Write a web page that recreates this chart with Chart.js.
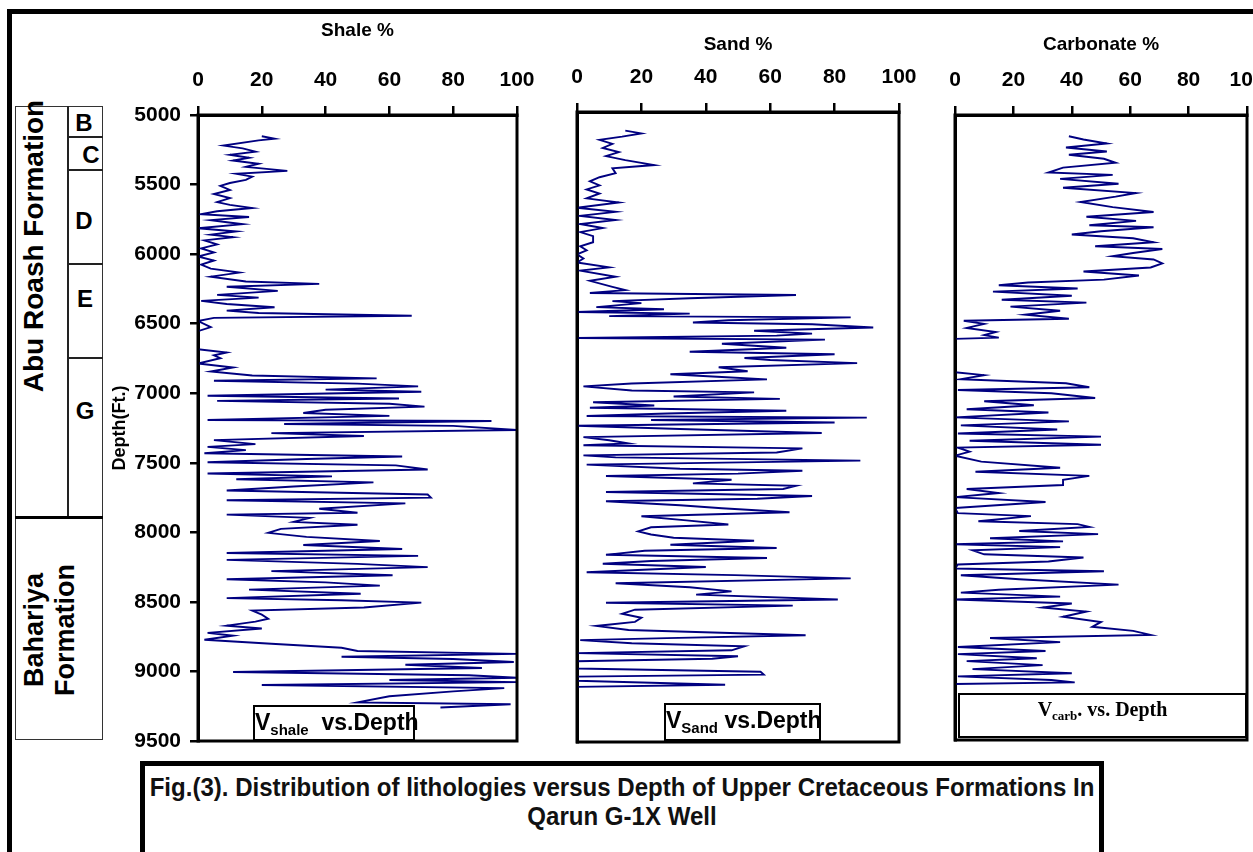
<!DOCTYPE html>
<html>
<head>
<meta charset="utf-8">
<script src="https://cdn.jsdelivr.net/npm/chart.js@4.4.1/dist/chart.umd.min.js"></script>
<style>
  body { margin: 0; width: 1253px; height: 852px; overflow: hidden; background: #fff; position: relative; font-family: Arial, "Liberation Sans", sans-serif; }
  .abs { position: absolute; }
  canvas { position: absolute; top: 0; }
  .frame { left: 7px; top: 9px; width: 1270px; height: 880px; border: 5px solid #000; }
  .ln { position: absolute; background: #222; }
  .letter { position: absolute; font-weight: bold; font-size: 24px; transform: translate(-50%, -50%); }
  .rot { position: absolute; font-weight: bold; white-space: nowrap; transform: translate(-50%, -50%) rotate(-90deg); text-align: center; }
  .lg { position: absolute; background: #fff; border: 2px solid #000; box-sizing: border-box; font-weight: bold; font-size: 23px; text-align: center; line-height: 30px; white-space: nowrap; }
  .lg sub { font-size: 15px; vertical-align: -5px; }
  .caption { left: 140px; top: 761px; width: 954px; height: 120px; border: 5px solid #000; }
  .caption div { width: 1060px; margin-left: -53px; transform: scaleX(0.925); font-family: "Liberation Sans Narrow", "Arial Narrow", Arial, sans-serif; font-weight: bold; font-size: 26px; text-align: center; line-height: 29px; padding-top: 7px; color: #111; }
</style>
</head>
<body>
<div class="abs frame"></div>

<!-- formation column -->
<div class="abs" style="left:15px;top:106px;width:88px;height:634px;border:1.5px solid #333;box-sizing:border-box;"></div>
<div class="ln" style="left:67px;top:106px;width:1.5px;height:412px;"></div>
<div class="ln" style="left:67px;top:136px;width:36px;height:1.5px;"></div>
<div class="ln" style="left:67px;top:169px;width:36px;height:1.5px;"></div>
<div class="ln" style="left:67px;top:263px;width:36px;height:1.5px;"></div>
<div class="ln" style="left:67px;top:357px;width:36px;height:1.5px;"></div>
<div class="ln" style="left:15px;top:516px;width:88px;height:3px;background:#000;"></div>
<div class="letter" style="left:84px;top:123px;">B</div>
<div class="letter" style="left:91px;top:155px;">C</div>
<div class="letter" style="left:84px;top:221px;">D</div>
<div class="letter" style="left:85px;top:299px;">E</div>
<div class="letter" style="left:85px;top:411px;">G</div>
<div class="rot" style="left:34px;top:246px;font-size:28px;">Abu Roash Formation</div>
<div class="rot" style="left:50px;top:630px;font-size:27px;line-height:31px;">Bahariya<br>Formation</div>

<canvas id="shaleChart" width="445" height="760" style="left:100px;"></canvas>
<canvas id="sandChart" width="375" height="760" style="left:545px;"></canvas>
<canvas id="carbChart" width="333" height="760" style="left:920px;"></canvas>

<div class="lg" style="left:253px;top:705px;width:162px;height:36px;">V<sub>shale</sub>&nbsp; vs.Depth</div>
<div class="lg" style="left:664px;top:703px;width:157px;height:38px;">V<sub>Sand</sub> vs.Depth</div>
<div class="lg" style="left:958px;top:693px;width:289px;height:45px;font-family:'Liberation Serif','Times New Roman',serif;font-size:20px;line-height:28px;">V<sub style="font-size:13px;vertical-align:-4px;">carb</sub>. vs. Depth</div>

<div class="abs caption"><div>Fig.(3). Distribution of lithologies versus Depth of Upper Cretaceous Formations In<br>Qarun G-1X Well</div></div>

<script>
const shaleDepth = [5153,5170,5182,5220,5240,5263,5286,5307,5327,5350,
  5373,5402,5423,5443,5466,5489,5510,5539,5568,5597,
  5626,5646,5669,5692,5713,5733,5756,5785,5814,5837,
  5860,5878,5901,5930,5959,5988,6017,6046,6075,6104,
  6133,6162,6197,6214,6235,6264,6293,6313,6336,6359,
  6382,6406,6423,6443,6458,6481,6525,6554,6684,6707,
  6728,6748,6786,6815,6844,6873,6893,6910,6931,6951,
  6974,6989,7018,7038,7055,7076,7096,7119,7142,7163,
  7192,7200,7221,7235,7264,7287,7307,7337,7366,7386,
  7409,7432,7455,7473,7496,7519,7548,7577,7598,7618,
  7641,7670,7699,7728,7751,7769,7792,7830,7859,7873,
  7896,7925,7946,7975,8004,8033,8062,8091,8120,8149,
  8169,8198,8227,8250,8279,8308,8337,8360,8383,8412,
  8441,8473,8488,8505,8540,8563,8592,8621,8642,8671,
  8691,8723,8743,8772,8801,8830,8853,8874,8894,8911,
  8932,8952,8975,9004,9027,9045,9062,9077,9097,9120,
  9143,9178,9222,9236,9259];
const shaleValue = [20,24,19,8,14,18,10,16,11,19,
  15,28,12,17,15,10,7,10,5,10,
  6,10,17,6,1,16,4,14,0,12,
  4,11,2,6,1,5,0,5,1,4,
  13,4,15,38,9,25,6,19,1,9,
  24,9,19,67,5,0,4,0,0,9,
  5,7,0,11,4,17,56,5,50,69,
  40,70,3,63,6,60,71,40,33,60,
  3,92,27,80,100,23,52,5,18,3,
  15,2,64,34,3,62,72,3,42,12,
  55,30,9,72,73,9,65,38,50,9,
  35,30,50,26,22,34,57,33,64,9,
  69,9,50,72,23,61,9,40,57,16,
  51,9,45,70,52,17,20,22,18,9,
  20,3,11,2,23,45,50,100,45,80,
  99,65,89,11,85,100,60,100,20,96,
  80,60,50,98,76];

const sandDepth = [5133,5153,5176,5199,5228,5257,5286,5315,5344,5379,
  5402,5437,5466,5495,5524,5553,5582,5617,5646,5684,
  5713,5742,5771,5800,5829,5858,5887,5930,5959,5988,
  6017,6046,6075,6110,6133,6177,6206,6249,6272,6293,
  6307,6330,6351,6365,6394,6409,6429,6440,6458,6467,
  6487,6504,6516,6539,6562,6583,6597,6614,6626,6655,
  6684,6713,6730,6757,6771,6794,6823,6852,6873,6893,
  6910,6939,6960,6989,7003,7032,7049,7073,7096,7113,
  7134,7154,7171,7183,7200,7218,7241,7264,7293,7322,
  7345,7368,7380,7403,7432,7453,7467,7490,7519,7548,
  7563,7583,7600,7627,7653,7670,7693,7714,7743,7763,
  7780,7809,7830,7859,7888,7917,7946,7966,7995,8018,
  8041,8062,8091,8114,8134,8163,8186,8207,8227,8250,
  8288,8308,8331,8366,8395,8424,8447,8482,8505,8526,
  8555,8584,8613,8642,8671,8700,8737,8758,8772,8795,
  8816,8845,8865,8888,8905,8923,8975,8998,9019,9033,
  9062,9091,9106,9259];
const sandValue = [15,20,14,7,11,8,13,9,15,24,
  11,12,7,4,7,3,7,3,13,0,
  12,1,12,1,8,1,5,5,1,3,
  0,2,0,10,1,12,4,11,15,4,
  68,35,11,20,6,27,0,35,10,85,
  47,36,73,92,55,73,62,0,77,45,
  65,35,80,52,60,87,44,53,29,45,
  59,17,2,17,55,30,63,5,24,4,
  65,28,3,90,23,80,0,32,76,2,
  10,16,2,70,62,2,12,88,3,32,
  70,50,9,48,36,68,64,9,73,56,
  9,32,45,66,20,34,47,23,19,23,
  30,55,29,62,21,9,59,23,8,40,
  3,49,85,12,35,48,37,81,9,67,
  18,14,20,18,6,16,71,28,1,17,
  52,48,0,50,42,0,0,57,58,0,
  0,46,0,0];

const carbDepth = [5153,5176,5205,5234,5263,5286,5315,5344,5379,5414,
  5431,5460,5495,5524,5562,5588,5626,5663,5698,5733,
  5762,5794,5808,5837,5860,5887,5916,5945,5965,5994,
  6017,6040,6069,6098,6127,6156,6185,6206,6226,6249,
  6272,6301,6330,6351,6380,6409,6438,6467,6481,6504,
  6533,6562,6585,6603,6612,6852,6873,6902,6931,6960,
  6980,7003,7038,7061,7090,7119,7142,7177,7206,7235,
  7264,7293,7316,7345,7374,7395,7424,7453,7496,7540,
  7569,7598,7627,7664,7693,7722,7751,7786,7830,7867,
  7888,7925,7946,7966,7995,8018,8047,8070,8091,8111,
  8134,8163,8186,8215,8236,8265,8285,8314,8343,8381,
  8418,8439,8468,8488,8517,8546,8575,8613,8650,8685,
  8714,8743,8766,8795,8830,8859,8882,8911,8932,8961,
  8990,9019,9042,9068,9085,9097,9236];
const carbValue = [39,44,52,38,52,39,51,55,37,32,
  54,36,56,37,62,55,43,54,68,45,
  62,46,68,50,40,61,68,48,71,61,
  54,68,71,67,44,63,51,25,15,42,
  13,40,16,45,19,36,24,39,3,10,
  4,14,10,15,0,0,10,2,38,46,
  1,33,48,10,27,4,32,0,39,2,
  35,1,50,5,50,1,5,0,9,36,
  7,46,37,37,4,15,0,31,0,1,
  26,8,42,46,22,49,12,37,0,36,
  6,10,44,32,1,0,51,2,22,56,
  15,2,36,0,40,30,45,37,50,47,
  61,67,12,36,1,31,1,28,4,30,
  6,40,1,33,41,0,0];

const depthMin = 5000, depthMax = 9500, depthStep = 500;
const pctTicks = 20;
const lineColor = '#000080';
const fontFamily = 'Arial, "Liberation Sans", sans-serif';

// box round the plot area
const boxPlugin = {
  id: 'box',
  afterDatasetsDraw(chart) {
    const { ctx, chartArea: a } = chart;
    ctx.save();
    ctx.strokeStyle = '#000';
    ctx.lineWidth = 3;
    ctx.strokeRect(a.left, a.top, a.right - a.left, a.bottom - a.top);
    ctx.restore();
  }
};

function makePanel(id, depths, values, cfg) {
  const pts = depths.map((d, i) => ({ x: values[i], y: d }));
  return new Chart(document.getElementById(id), {
    type: 'scatter',
    data: { datasets: [{ data: pts, showLine: true, borderColor: lineColor, borderWidth: 1.9, pointRadius: 0, tension: 0 }] },
    options: {
      responsive: false,
      animation: false,
      events: [],
      layout: { padding: { top: 0, left: 0, right: cfg.padRight, bottom: cfg.padBottom } },
      plugins: { legend: { display: false }, tooltip: { enabled: false } },
      scales: {
        x: {
          type: 'linear', position: 'top', min: 0, max: 100,
          ticks: { stepSize: pctTicks, color: '#000', padding: 13, font: { family: fontFamily, size: 21, weight: 'bold' } },
          grid: { drawOnChartArea: false, drawTicks: true, tickLength: 9, color: '#000', lineWidth: 2.5 },
          border: { display: true, color: '#000', width: 3 },
          title: { display: true, text: cfg.title, color: '#000', padding: { top: cfg.titleTop, bottom: 0 }, font: { family: fontFamily, size: 19, weight: 'bold' } },
          afterFit(s) { s.height = cfg.top; s.paddingLeft = 0; s.paddingRight = 0; }
        },
        y: {
          type: 'linear', position: 'left', reverse: true, min: depthMin, max: depthMax,
          ticks: { display: cfg.showDepth, stepSize: depthStep, color: '#000', padding: 9, font: { family: fontFamily, size: 21, weight: 'bold' }, callback: v => String(v) },
          grid: { display: cfg.showDepth, drawOnChartArea: false, tickLength: 8, color: '#000', lineWidth: 2.5 },
          border: { display: true, color: '#000', width: 3 },
          title: { display: cfg.showDepth, text: 'Depth(Ft.)', color: '#000', padding: { top: 9, bottom: 0 }, font: { family: fontFamily, size: 18, weight: 'bold' } },
          afterFit(s) { s.width = cfg.left; s.paddingTop = 0; s.paddingBottom = 0; }
        }
      }
    },
    plugins: [boxPlugin]
  });
}

makePanel('shaleChart', shaleDepth, shaleValue, { title: 'Shale %', titleTop: 19, top: 115, left: 98, padRight: 28, padBottom: 19, showDepth: true });
makePanel('sandChart', sandDepth, sandValue, { title: 'Sand %', titleTop: 33, top: 112, left: 32, padRight: 21, padBottom: 18, showDepth: false });
makePanel('carbChart', carbDepth, carbValue, { title: 'Carbonate %', titleTop: 33, top: 115, left: 35, padRight: 6, padBottom: 20, showDepth: false });
</script>
</body>
</html>
